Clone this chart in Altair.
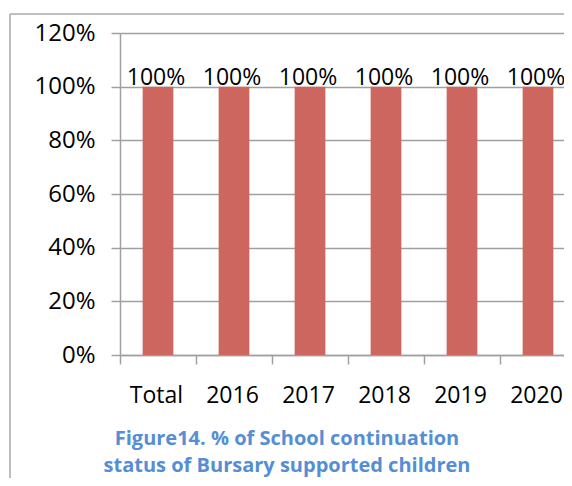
import altair as alt
import pandas as pd

categories = ["Total", "2016", "2017", "2018", "2019", "2020"]
values = [1.0, 1.0, 1.0, 1.0, 1.0, 1.0]
y_ticks = [0, 0.2, 0.4, 0.6, 0.8, 1.0, 1.2]
title_lines = ["Figure14. % of School continuation", "status of Bursary supported children"]

df = pd.DataFrame({"cat": categories, "val": values})

FONT = "Open Sans"
GRAY = "#a0a0a0"
BAR = "#CD665F"

x_enc = alt.X(
    "cat:N",
    sort=categories,
    scale=alt.Scale(range=[0, 456], paddingInner=0, paddingOuter=0),
    axis=alt.Axis(
        title=None,
        labelAngle=0,
        labelFont=FONT,
        labelFontSize=23,
        labelColor="black",
        labelPadding=20,
        labelOffset=-2,
        tickBand="extent",
        tickSize=9,
        tickColor=GRAY,
        tickWidth=1.5,
        domainColor=GRAY,
        domainWidth=1.5,
        grid=False,
    ),
)
y_enc = alt.Y(
    "val:Q",
    scale=alt.Scale(domain=[0, 1.2], nice=False),
    axis=alt.Axis(
        title=None,
        values=y_ticks,
        format=".0%",
        labelFont=FONT,
        labelFontSize=24,
        labelColor="black",
        labelPadding=16,
        tickSize=9,
        tickColor=GRAY,
        tickWidth=1.5,
        domainColor=GRAY,
        domainWidth=1.5,
        grid=True,
        gridColor=GRAY,
        gridWidth=1.5,
    ),
)

bars = alt.Chart(df).mark_bar(color=BAR, width=alt.RelativeBandSize(0.404)).encode(x=x_enc, y=y_enc)

labels = alt.Chart(df).mark_text(
    font=FONT, fontSize=23, color="black", baseline="alphabetic", dx=-2, dy=-2
).encode(x=x_enc, y=y_enc, text=alt.Text("val:Q", format=".0%"))

frame_df = pd.DataFrame({"k": [0]})
left_border = alt.Chart(frame_df).mark_rule(color="#a8a8a8", strokeWidth=1.5).encode(
    x=alt.value(-110), y=alt.value(-19), y2=alt.value(445)
)
top_border = alt.Chart(frame_df).mark_rule(color="#a8a8a8", strokeWidth=1.5).encode(
    x=alt.value(-110), x2=alt.value(470), y=alt.value(-19)
)

chart = alt.layer(bars, labels, left_border, top_border).properties(
    width=444,
    height=322,
    padding={"left": 112, "top": 25, "right": 0, "bottom": 123},
    autosize=alt.AutoSizeParams(type="none"),
    title=alt.TitleParams(
        text=title_lines,
        orient="bottom",
        anchor="middle",
        font=FONT,
        fontSize=20,
        fontWeight="bold",
        color="#558ED5",
        lineHeight=27,
        offset=-50,
        dx=-55,
    ),
).configure_view(stroke=None).configure(background="white")

chart.save("out.html", embed_options={"renderer": "svg", "actions": False})
